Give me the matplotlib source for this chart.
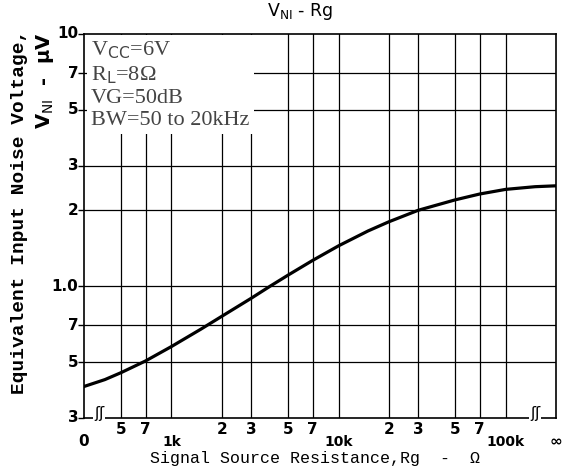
import matplotlib
matplotlib.use("Agg")
import matplotlib.pyplot as plt
import numpy as np

# Data (Rg in ohms; 300 = "0" end, 200k = "inf" end of the broken axis)
rg = [300, 400, 500, 700, 1000, 1500, 2000, 3000, 3900, 5000, 7000, 10000,
      15000, 20000, 30000, 50000, 70000, 100000, 150000, 200000]
vni = [0.40, 0.426, 0.454, 0.505, 0.576, 0.675, 0.759, 0.895, 1.0, 1.107, 1.265, 1.445,
       1.655, 1.80, 2.0, 2.20, 2.32, 2.42, 2.48, 2.50]

x_ticks = [300, 500, 700, 1000, 2000, 3000, 5000, 7000, 10000, 20000, 30000, 50000, 70000, 100000, 200000]
x_labels = ["0", "5", "7", "1k", "2", "3", "5", "7", "10k", "2", "3", "5", "7", "100k", "∞"]
y_ticks = [0.3, 0.5, 0.7, 1.0, 2, 3, 5, 7, 10]
y_labels = ["3", "5", "7", "1.0", "2", "3", "5", "7", "10"]
conditions = ["V$_{\\rm CC}$=6V", "R$_{\\rm L}$=8Ω", "VG=50dB", "BW=50 to 20kHz"]

fig = plt.figure(figsize=(5.65, 4.72), dpi=100)
ax = fig.add_axes([84/565, 1-418/472, (556-84)/565, (418-34)/472])
ax.set_xscale("log")
ax.set_yscale("log")
ax.set_xlim(300, 200000)
ax.set_ylim(0.3, 10)

# grid
for xv in x_ticks[1:-1]:
    ax.axvline(xv, color="black", lw=0.9, zorder=1)
for yv in y_ticks[1:-1]:
    ax.axhline(yv, color="black", lw=0.9, zorder=1)

ax.plot(rg, vni, color="black", lw=2.3, zorder=3, solid_joinstyle="round")

for s in ax.spines.values():
    s.set_linewidth(1.2)

ax.minorticks_off()
ax.set_xticks(x_ticks)
ax.set_xticklabels([])
ax.set_yticks(y_ticks)
ax.set_yticklabels([])
ax.tick_params(axis="x", length=0)
ax.tick_params(axis="y", direction="out", length=4, width=1)

tf = dict(fontfamily="DejaVu Sans", fontweight="bold", fontsize=11)
for xv, lab in zip(x_ticks, x_labels):
    if lab in ("1k", "10k", "100k"):
        dy, fs = -22, 10
    elif lab in ("0", "∞"):
        dy, fs = -22, 11
    else:
        dy, fs = -14, 11
    ax.annotate(lab, xy=(xv, 0.3), xycoords="data", xytext=(0, dy), textcoords="offset points",
                ha="center", va="bottom", fontfamily="DejaVu Sans", fontweight="bold", fontsize=fs)
for yv, lab in zip(y_ticks, y_labels):
    ax.annotate(lab, xy=(300, yv), xycoords="data", xytext=(-4, 0), textcoords="offset points",
                ha="right", va="center", **tf)

# axis break marks
for xb in (370, 150000):
    ax.annotate("ʃʃ", xy=(xb, 0.3), xycoords="data", xytext=(0, 3), textcoords="offset points",
                ha="center", va="center", fontsize=11, fontfamily="DejaVu Sans",
                bbox=dict(boxstyle="square,pad=0.05", fc="white", ec="none"), annotation_clip=False)

# conditions box
ax.text(0.015, 0.985, "\n".join(conditions), transform=ax.transAxes, ha="left", va="top",
        fontsize=16, fontfamily="Liberation Serif", linespacing=1.2, color="#444444",
        bbox=dict(boxstyle="square,pad=0.2", fc="white", ec="none"), zorder=4)

fig.text(300/565, 1-12/472, "V$_{\\rm NI}$ - Rg", ha="center", va="center",
         fontsize=12.5, fontfamily="DejaVu Sans")
fig.text(315/565, 1-458/472, "Signal Source Resistance,Rg  -  Ω", ha="center", va="center",
         fontsize=12, fontfamily="Liberation Mono")
fig.text(20/565, 1-212/472, "Equivalent Input Noise Voltage,", ha="center", va="center",
         rotation=90, fontsize=14, fontfamily="Liberation Mono", fontweight="bold")
fig.text(45/565, 1-32/472, "V$_{\\rm NI}$  -  µV", ha="center", va="top",
         rotation=90, fontsize=14, fontfamily="DejaVu Sans", fontweight="bold")

fig.savefig("out.png", dpi=100)
